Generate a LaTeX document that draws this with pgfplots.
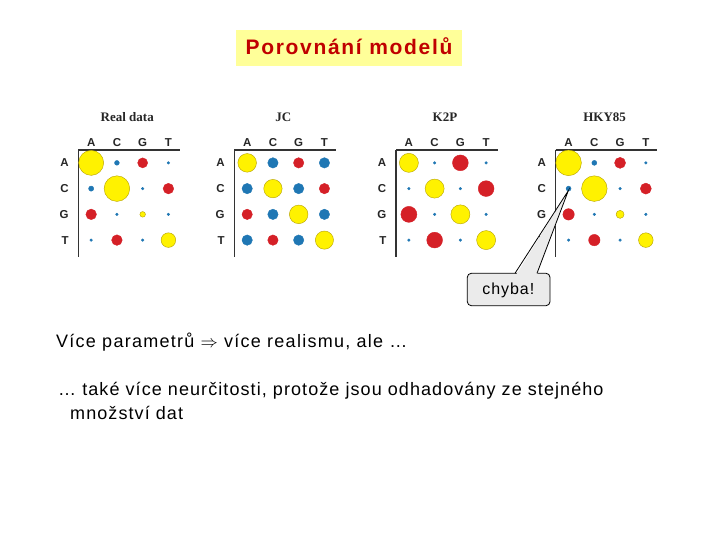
\documentclass[border=0pt]{standalone}
\usepackage{fontspec}
\setmainfont{Liberation Sans}
\newfontfamily\serifb{Liberation Serif}
\newfontfamily\spaced{Liberation Sans}[LetterSpace=7]
\newfontfamily\spacedb{Liberation Sans}[LetterSpace=6]
\newfontfamily\callfont{Liberation Sans}[LetterSpace=6]
\newfontfamily\titlefont{Liberation Sans}[LetterSpace=8]
\usepackage{pgfplots}
\usepackage{pgfplotstable}
\pgfplotsset{compat=1.18}
\definecolor{yfill}{HTML}{FFF200}
\definecolor{ydraw}{HTML}{B4A000}
\definecolor{rfill}{HTML}{D52027}
\definecolor{bfill}{HTML}{1F77B4}
\definecolor{tbox}{HTML}{FFFF99}
\definecolor{ttext}{HTML}{C00000}
\definecolor{cbox}{HTML}{EBEBEB}

% x: column (A=0,C=1,G=2,T=3); y: row (A=3,C=2,G=1,T=0); r: radius (px)
% c: colour class 0 = yellow, 1 = red, 2 = blue
\pgfplotstableread{
x y r c
0 3 12.5 0
1 3 2.4 2
2 3 5.0 1
3 3 1.3 2
0 2 2.6 2
1 2 12.8 0
2 2 1.3 2
3 2 5.3 1
0 1 5.3 1
1 1 1.3 2
2 1 2.8 0
3 1 1.3 2
0 0 1.3 2
1 0 5.3 1
2 0 1.3 2
3 0 7.3 0
}\realdata

\pgfplotstableread{
x y r c
0 3 9.3 0
1 3 5.2 2
2 3 5.2 1
3 3 5.2 2
0 2 5.2 2
1 2 9.2 0
2 2 5.2 2
3 2 5.2 1
0 1 5.2 1
1 1 5.2 2
2 1 9.3 0
3 1 5.2 2
0 0 5.2 2
1 0 5.2 1
2 0 5.2 2
3 0 9.1 0
}\jcdata

\pgfplotstableread{
x y r c
0 3 9.5 0
1 3 1.3 2
2 3 7.9 1
3 3 1.3 2
0 2 1.3 2
1 2 9.5 0
2 2 1.3 2
3 2 7.9 1
0 1 8.0 1
1 1 1.3 2
2 1 9.5 0
3 1 1.3 2
0 0 1.3 2
1 0 7.9 1
2 0 1.3 2
3 0 9.5 0
}\ktwopdata

\pgfplotstableread{
x y r c
0 3 12.8 0
1 3 2.5 2
2 3 5.5 1
3 3 1.3 2
0 2 2.5 2
1 2 12.8 0
2 2 1.3 2
3 2 5.5 1
0 1 5.7 1
1 1 1.3 2
2 1 4.0 0
3 1 1.3 2
0 0 1.3 2
1 0 5.7 1
2 0 1.3 2
3 0 7.3 0
}\hkydata

\pgfplotsset{
  onlyclass/.style={x filter/.expression={\thisrow{c}==#1 ? x : nan}},
  bub/.style={only marks, mark=*, unbounded coords=discard, scatter,
    point meta=\thisrow{r},
    visualization depends on={\thisrow{r} \as \rr},
    scatter/@pre marker code/.append style={/tikz/mark size=\rr}},
  panelax/.style={
    anchor=north west, scale only axis, width=101.71pt, height=106.86pt,
    xmin=-0.5, xmax=3.45, ymin=-0.65, ymax=3.5,
    axis line style={draw=none}, major tick length=0pt,
    xtick={0,1,2,3}, xticklabels={A,C,G,T}, xticklabel pos=upper,
    ytick={0,1,2,3}, yticklabels={T,G,C,A},
    ticklabel style={font=\bfseries\fontsize{11.5}{13}\selectfont, text=black!85, inner sep=0pt},
    xticklabel style={yshift=3.5pt}, yticklabel style={xshift=-9.5pt},
    clip=false,
  },
}

\newcommand\panel[3]{%
\begin{axis}[panelax, at={(#3,390pt)}]
\addplot[scatter/use mapped color={draw=ydraw, fill=yfill}, bub, onlyclass=0] table {#1};
\addplot[scatter/use mapped color={draw=rfill, fill=rfill}, bub, onlyclass=1] table {#1};
\addplot[scatter/use mapped color={draw=bfill, fill=bfill}, bub, onlyclass=2] table {#1};
\draw[line width=1.1pt, black!80] (axis cs:-0.5,3.5) -- (axis cs:3.45,3.5);
\draw[line width=1.1pt, black!80] (axis cs:-0.5,3.5) -- (axis cs:-0.5,-0.65);
\node[font=\serifb\bfseries\fontsize{13}{15}\selectfont, text=black!85] at (axis cs:1.4,4.79) {#2};
\end{axis}}

\begin{document}
\begin{tikzpicture}[x=1pt,y=1pt]
\fill[white] (0,0) rectangle (720,540);
% title
\fill[tbox] (236,474) rectangle (462,510);
\node[anchor=base, inner sep=0pt, text=ttext, font=\titlefont\bfseries\fontsize{21}{24}\selectfont] at (349,485.5) {Porovnání modelů};
% panels
\panel{\realdata}{Real data}{78.3pt}
\panel{\jcdata}{JC}{234.3pt}
\panel{\ktwopdata}{K2P}{396pt}
\panel{\hkydata}{HKY85}{555.7pt}
% callout
\draw[fill=cbox, rounded corners=4pt, line width=0.8pt] (467.3,234.3) rectangle (550,266.7);
\fill[cbox] (515.5,264) -- (568.3,349.3) -- (536.5,264) -- cycle;
\draw[line width=0.8pt] (515,266.7) -- (568.3,349.3) -- (537,266.7);
\node[inner sep=0pt, font=\callfont\fontsize{16}{18}\selectfont] at (508.3,249.3) {chyba!};
% text
\node[anchor=base west, inner sep=0pt, font=\spaced\fontsize{18}{20}\selectfont] at (56,192) {Více parametrů $\Rightarrow$ více realismu, ale …};
\node[anchor=base west, inner sep=0pt, font=\spacedb\fontsize{18}{20}\selectfont] at (58,144) {… také více neurčitosti, protože jsou odhadovány ze stejného};
\node[anchor=base west, inner sep=0pt, font=\spacedb\fontsize{18}{20}\selectfont] at (70,120) {množství dat};
\end{tikzpicture}
\end{document}
